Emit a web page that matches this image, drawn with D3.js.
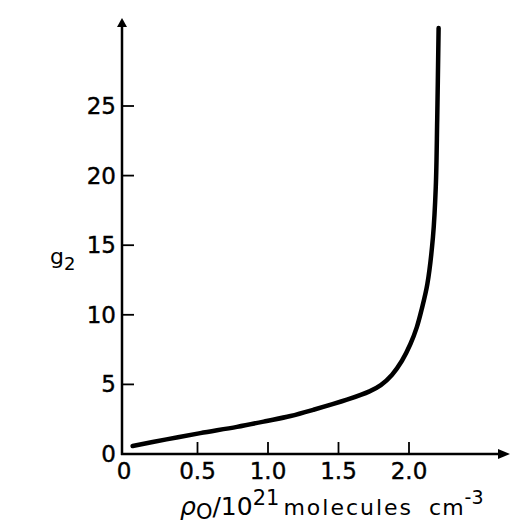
<!DOCTYPE html>
<html>
<head>
<meta charset="utf-8">
<script src="https://cdn.jsdelivr.net/npm/d3@7"></script>
<style>
  body { margin: 0; background: #fff; }
  text { font-family: "DejaVu Sans", sans-serif; fill: #000; }
</style>
</head>
<body>
<div id="chart"></div>
<script>
// density (10^21 molecules cm^-3)
const rho = [0.04, 0.28, 0.52, 0.78, 0.99, 1.16, 1.32, 1.56, 1.72, 1.80, 1.88, 1.95, 2.01, 2.055, 2.09, 2.13, 2.17, 2.19, 2.20, 2.21];
// g2 values at those densities
const g2 = [0.57, 1.05, 1.5, 1.95, 2.37, 2.73, 3.17, 3.9, 4.5, 4.95, 5.7, 6.7, 7.9, 9.1, 10.4, 12.2, 15.6, 19.2, 24.0, 30.6];
const xTicks = [0, 0.5, 1.0, 1.5, 2.0];
const xTickLabels = ["0", "0.5", "1.0", "1.5", "2.0"];
const yTicks = [5, 10, 15, 20, 25];

const width = 511, height = 527;

const svg = d3.select("#chart").append("svg")
    .attr("width", width)
    .attr("height", height);

const x = d3.scaleLinear().domain([0, 2]).range([127, 409]);
const y = d3.scaleLinear().domain([0, 25]).range([454, 106]);

const axisX0 = 122, axisY0 = 454;

// axes lines with arrow heads
svg.append("line")
    .attr("x1", axisX0).attr("y1", axisY0 + 1)
    .attr("x2", axisX0).attr("y2", 26)
    .attr("stroke", "#000").attr("stroke-width", 2.5);
svg.append("path")
    .attr("d", `M${axisX0 - 5},27 L${axisX0},18 L${axisX0 + 5},27 Z`)
    .attr("fill", "#000");

svg.append("line")
    .attr("x1", axisX0 - 1).attr("y1", axisY0)
    .attr("x2", 500).attr("y2", axisY0)
    .attr("stroke", "#000").attr("stroke-width", 2.5);
svg.append("path")
    .attr("d", `M498,${axisY0 - 5} L510,${axisY0} L498,${axisY0 + 5} Z`)
    .attr("fill", "#000");

// ticks (drawn inward)
svg.selectAll(".xt").data(xTicks.slice(1)).enter().append("line")
    .attr("x1", d => x(d)).attr("x2", d => x(d))
    .attr("y1", axisY0).attr("y2", axisY0 - 12)
    .attr("stroke", "#000").attr("stroke-width", 1.8);

svg.selectAll(".yt").data(yTicks).enter().append("line")
    .attr("x1", axisX0).attr("x2", axisX0 + 12)
    .attr("y1", d => y(d)).attr("y2", d => y(d))
    .attr("stroke", "#000").attr("stroke-width", 1.8);

// tick labels
svg.selectAll(".xl").data(xTicks).enter().append("text")
    .attr("x", (d, i) => i === 0 ? 124 : x(d))
    .attr("y", axisY0 + 25)
    .attr("text-anchor", "middle")
    .style("font-size", "23px")
    .style("stroke", "#000").style("stroke-width", 0.4)
    .text((d, i) => xTickLabels[i]);

svg.selectAll(".yl").data([0].concat(yTicks)).enter().append("text")
    .attr("x", 116)
    .attr("y", d => y(d) + 8)
    .attr("text-anchor", "end")
    .style("font-size", "23px")
    .style("stroke", "#000").style("stroke-width", 0.4)
    .text(d => d);

// axis titles
const yt = svg.append("text")
    .attr("x", 50).attr("y", 264)
    .style("font-size", "22px");
yt.append("tspan").text("g");
yt.append("tspan").attr("dy", 6).style("font-size", "18px").text("2");

const xt = svg.append("text")
    .attr("x", 180).attr("y", 515)
    .style("font-size", "25px");
xt.append("tspan").style("font-style", "italic").text("ρ");
xt.append("tspan").attr("dy", 4).style("font-size", "21px").text("O");
xt.append("tspan").attr("dy", -4).text("/10");
xt.append("tspan").attr("dy", -10).style("font-size", "21px").text("21");
xt.append("tspan").attr("dy", 10).attr("dx", 4).style("font-size", "22px")
    .style("letter-spacing", "2px").text("molecules");
xt.append("tspan").attr("dx", 16).style("font-size", "22px")
    .style("letter-spacing", "1px").text("cm");
xt.append("tspan").attr("dy", -11).style("font-size", "19px").text("-3");

// the curve
const pts = rho.map((r, i) => [r, g2[i]]);
const line = d3.line()
    .x(d => x(d[0]))
    .y(d => y(d[1]))
    .curve(d3.curveCatmullRom.alpha(0.5));

svg.append("path")
    .datum(pts)
    .attr("fill", "none")
    .attr("stroke", "#000")
    .attr("stroke-width", 4.5)
    .attr("stroke-linecap", "round")
    .attr("d", line);
</script>
</body>
</html>
